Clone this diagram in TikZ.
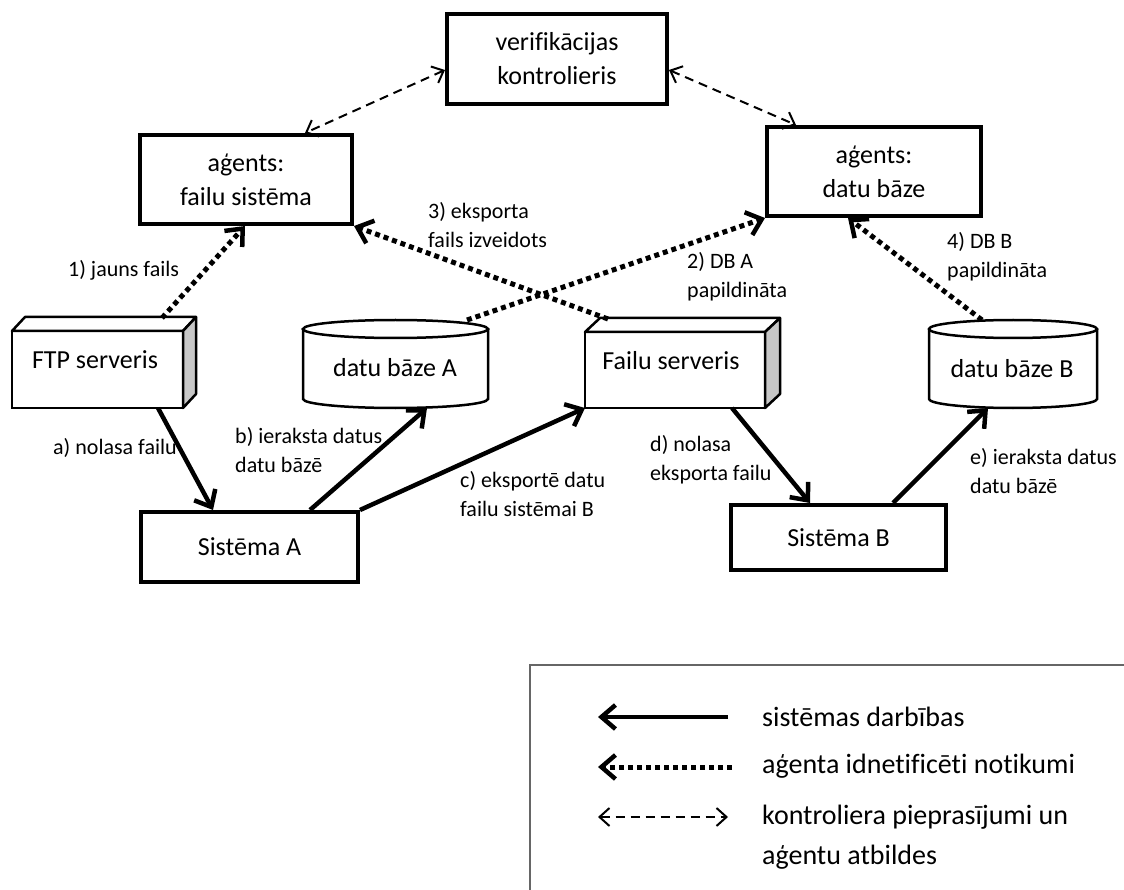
\documentclass[tikz,border=0pt]{standalone}
\usepackage{fontspec}
\setmainfont{Carlito}[Ligatures={NoCommon}]
\usetikzlibrary{arrows.meta}
\begin{document}
\begin{tikzpicture}[x=1pt,y=-1pt,
  box/.style={draw, line width=4pt, align=center, inner sep=0pt,
    font=\fontsize{26}{34}\selectfont},
  srv/.style={draw, line width=2.5pt, fill=white, inner sep=0pt, outer sep=0pt},
  srvline/.style={line width=2.5pt, line join=round},
  cyl/.style={line width=2.5pt},
  ntxt/.style={inner sep=0pt, font=\fontsize{26}{34}\selectfont},
  lbl/.style={align=left, anchor=west, inner sep=0pt,
    font=\fontsize{22}{29}\selectfont},
  leg/.style={align=left, anchor=west, inner sep=0pt,
    font=\fontsize{28}{40}\selectfont},
  act/.style={line width=4.5pt,
    -{Straight Barb[length=14pt,width=24pt,line width=4.5pt]}},
  evt/.style={line width=5pt, dash pattern=on 5pt off 4pt,
    -{Straight Barb[length=14pt,width=24pt,line width=4.5pt]}},
  req/.style={line width=2pt, dash pattern=on 9pt off 6pt,
    {Straight Barb[length=10pt,width=18pt,line width=2pt]}-{Straight Barb[length=10pt,width=18pt,line width=2pt]}},
]
\useasboundingbox (0,0) rectangle (1124,890);

% controller and agents
\node[box, minimum width=220pt, minimum height=90pt] (ctrl) at (557,59) {verifikācijas\\kontrolieris};
\node[box, minimum width=212pt, minimum height=89pt] (agfs) at (246,179.5) {aģents:\\failu sistēma};
\node[box, minimum width=214pt, minimum height=89pt] (agdb) at (874,171.5) {aģents:\\datu bāze};

% systems
\node[box, minimum width=217pt, minimum height=70pt] (sysA) at (249.5,547) {Sistēma A};
\node[box, minimum width=215pt, minimum height=65pt] (sysB) at (838.5,537.5) {Sistēma B};

% servers drawn as boxes with depth
\node[srv, minimum width=171pt, minimum height=77pt] (ftp) at (97.5,369.5) {};
\draw[srvline, fill=white] (ftp.north west) -- ++(13,-14) -- ++(171,0) -- (ftp.north east) -- cycle;
\draw[srvline, fill=black!22] (ftp.north east) -- ++(13,-14) -- ++(0,77) -- (ftp.south east) -- cycle;
\node[ntxt] (ftpt) at (95,360) {FTP serveris};

\node[srv, minimum width=180pt, minimum height=76pt] (fsrv) at (675,370) {};
\draw[srvline, fill=white] (fsrv.north west) -- ++(15,-14) -- ++(180,0) -- (fsrv.north east) -- cycle;
\draw[srvline, fill=black!22] (fsrv.north east) -- ++(15,-14) -- ++(0,76) -- (fsrv.south east) -- cycle;
\node[ntxt] (fsrvt) at (671,361) {Failu serveris};

% databases drawn as cylinders
\node[inner sep=0pt, outer sep=0pt, minimum width=185pt, minimum height=88pt] (dbA) at (395.5,364) {};
\draw[cyl] (303,329) -- (303,399) arc[start angle=180, end angle=0, x radius=92.5, y radius=9] -- (488,329);
\draw[cyl] (395.5,329) ellipse [x radius=92.5, y radius=9];
\node[ntxt] (dbAt) at (395,368) {datu bāze A};

\node[inner sep=0pt, outer sep=0pt, minimum width=168pt, minimum height=88pt] (dbB) at (1013,364) {};
\draw[cyl] (929,329) -- (929,399) arc[start angle=180, end angle=0, x radius=84, y radius=9] -- (1097,329);
\draw[cyl] (1013,329) ellipse [x radius=84, y radius=9];
\node[ntxt] (dbBt) at (1012,369) {datu bāze B};

% system actions
\draw[act] ([xshift=60.5]ftp.south) -- ([xshift=-36.5]sysA.north);
\draw[act] ([xshift=60.5]sysA.north) -- ([xshift=31.5]dbA.south);
\draw[act] (sysA.north east) -- (fsrv.south west);
\draw[act] ([xshift=57]fsrv.south) -- ([xshift=-28.5]sysB.north);
\draw[act] ([xshift=54.5]sysB.north) -- ([xshift=-25]dbB.south);

% events seen by the agents
\draw[evt] ([shift={(64.5,-13)}]ftp.north) -- ([xshift=-1]agfs.south);
\draw[evt] ([shift={(-67,-13)}]fsrv.north) -- (agfs.south east);
\draw[evt] ([xshift=71.5]dbA.north) -- (agdb.south west);
\draw[evt] ([xshift=-31]dbB.north) -- ([xshift=-26]agdb.south);

% controller requests and agent replies
\draw[req] ([shift={(0,11)}]ctrl.west) -- ([xshift=59]agfs.north);
\draw[req] ([shift={(0,11)}]ctrl.east) -- ([xshift=-78]agdb.north);

% connector labels
\node[lbl] (la) at (53,448) {a) nolasa failu};
\node[lbl] (lb) at (235,450) {b) ieraksta datus\\datu bāzē};
\node[lbl] (lc) at (460,494) {c) eksportē datu\\failu sistēmai B};
\node[lbl] (ld) at (650,460) {d) nolasa\\eksporta failu};
\node[lbl] (le) at (970,471) {e) ieraksta datus\\datu bāzē};
\node[lbl] (l1) at (68,270) {1) jauns fails};
\node[lbl] (l3) at (428,225) {3) eksporta\\fails izveidots};
\node[lbl] (l2) at (687,277) {2) DB A\\papildināta};
\node[lbl] (l4) at (947,257) {4) DB B\\papildināta};

% legend
\draw[line width=1.2pt, black!60] (530,890) -- (530,665) -- (1124,665);
\coordinate (k1s) at (728,717);
\coordinate (k1e) at (598,717);
\coordinate (k2s) at (732,767);
\coordinate (k2e) at (598,767);
\coordinate (k3s) at (598,817);
\coordinate (k3e) at (728,817);
\draw[act] (k1s) -- (k1e);
\draw[evt] (k2s) -- (k2e);
\draw[req] (k3s) -- (k3e);
\node[leg] (t1) at (762,717) {sistēmas darbības};
\node[leg] (t2) at (762,766) {aģenta idnetificēti notikumi};
\node[leg] (t3) at (762,837) {kontroliera pieprasījumi un\\aģentu atbildes};
\end{tikzpicture}
\end{document}
